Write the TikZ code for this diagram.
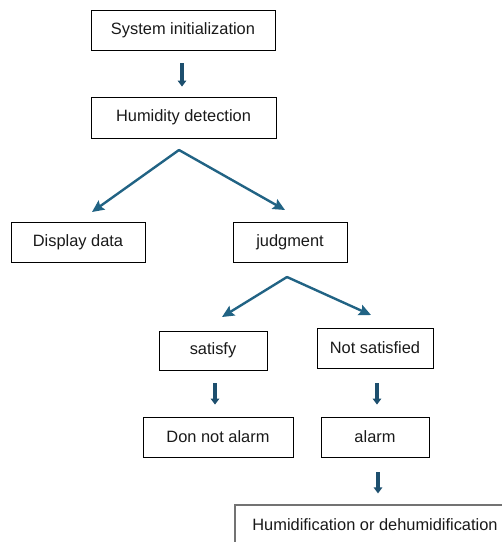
\documentclass[tikz,border=0pt]{standalone}
\usepackage{fontspec}
\setmainfont{Liberation Sans}
\usetikzlibrary{arrows.meta}
\definecolor{downblue}{HTML}{1D4F6E}
\definecolor{diagblue}{HTML}{216384}
\begin{document}
\begin{tikzpicture}[x=1pt,y=1pt,
  box/.style={draw=black, line width=0.8pt, inner sep=0pt, font=\fontsize{16.4}{19}\selectfont, text=black!90},
  downarrow/.style={draw=downblue, line width=3.6pt, -{Triangle[length=6pt,width=8.5pt]}},
  diagarrow/.style={draw=diagblue, line width=2.4pt, line cap=round, -{Stealth[length=12pt,width=11pt,inset=2pt]}}]
\useasboundingbox (0,0) rectangle (502,-542);
\clip (0,0) rectangle (502,-542);
% boxes
\node[box, minimum width=184, minimum height=40] (sys) at (183,-30) {System initialization};
\node[box, minimum width=185, minimum height=41] (hum) at (183.5,-117.5) {Humidity detection};
\node[box, minimum width=134, minimum height=40] (disp) at (78,-242) {Display data};
\node[box, minimum width=114, minimum height=40] (judg) at (290,-242) {judgment};
\node[box, minimum width=108, minimum height=39] (sat) at (213,-350.5) {satisfy};
\node[box, minimum width=116, minimum height=40] (nots) at (375,-348) {Not satisfied};
\node[box, minimum width=150, minimum height=40] (dna) at (218,-437) {Don not alarm};
\node[box, minimum width=108, minimum height=40] (alarm) at (375,-437) {alarm};
\node[box, draw=black!55, line width=1.1pt, minimum width=280, minimum height=40] (humid) at (375,-525) {Humidification or dehumidification};
% split points and arrow ends
\coordinate (apexA) at (179,-150);
\coordinate (tipDisp) at (92,-212);
\coordinate (tipJudg) at (285,-210);
\coordinate (apexB) at (287,-277);
\coordinate (tipSat) at (222,-317);
\coordinate (tipNots) at (371,-315);
% down arrows
\draw[downarrow, shorten <=13pt, shorten >=10pt] ([xshift=-1pt]sys.south) -- ([xshift=-1pt]sys.south |- hum.north);
\draw[downarrow, shorten <=13pt, shorten >=12pt] ([xshift=2pt]sat.south) -- ([xshift=2pt]sat.south |- dna.north);
\draw[downarrow, shorten <=15pt, shorten >=12pt] ([xshift=2pt]nots.south) -- ([xshift=2pt]nots.south |- alarm.north);
\draw[downarrow, shorten <=15pt, shorten >=11pt] ([xshift=3pt]alarm.south) -- ([xshift=3pt]alarm.south |- humid.north);
% diagonal arrows
\draw[diagarrow] (apexA) -- (tipDisp);
\draw[diagarrow] (apexA) -- (tipJudg);
\draw[diagarrow] (apexB) -- (tipSat);
\draw[diagarrow] (apexB) -- (tipNots);
\end{tikzpicture}
\end{document}
